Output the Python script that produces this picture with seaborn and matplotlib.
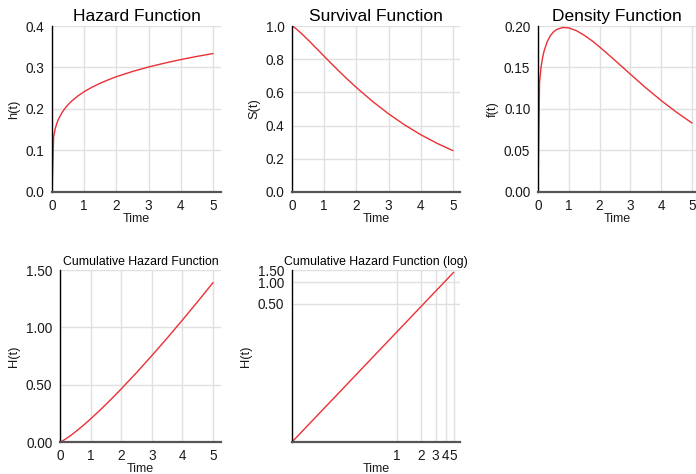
import matplotlib
matplotlib.use("Agg")
import matplotlib.pyplot as plt
import matplotlib.ticker as mticker
import seaborn as sns
import pandas as pd

# Values
time = [0.0, 0.05, 0.1, 0.15, 0.2, 0.3, 0.4, 0.5, 0.6, 0.8, 1.0, 1.25, 1.5,
        1.75, 2.0, 2.5, 3.0, 3.5, 4.0, 4.5, 5.0]
hazard = [0.0, 0.1328, 0.1526, 0.1655, 0.1753, 0.1901, 0.2013, 0.2105, 0.2183,
          0.2312, 0.2418, 0.2528, 0.2622, 0.2704, 0.2778, 0.2904, 0.3012,
          0.3106, 0.3191, 0.3267, 0.3336]
survival = [1.0, 0.9945, 0.9874, 0.9795, 0.9712, 0.9536, 0.9351, 0.9160,
            0.8966, 0.8571, 0.8175, 0.7685, 0.7205, 0.6741, 0.6295, 0.5461,
            0.4710, 0.4041, 0.3452, 0.2938, 0.2491]
density = [0.0, 0.1321, 0.1506, 0.1621, 0.1702, 0.1812, 0.1883, 0.1928,
           0.1957, 0.1982, 0.1977, 0.1943, 0.1889, 0.1823, 0.1748, 0.1586,
           0.1419, 0.1255, 0.1102, 0.0960, 0.0831]
cumhaz = [0.0, 0.00554, 0.01271, 0.02068, 0.02921, 0.04752, 0.06709, 0.08771,
          0.1092, 0.1542, 0.2015, 0.2634, 0.3278, 0.3944, 0.4629, 0.6050,
          0.7530, 0.9060, 1.0635, 1.2250, 1.3900]

titles = ["Hazard Function", "Survival Function", "Density Function",
          "Cumulative Hazard Function", "Cumulative Hazard Function (log)"]
ylabels = ["h(t)", "S(t)", "f(t)", "H(t)", "H(t)"]

df = pd.DataFrame({"time": time, "hazard": hazard, "survival": survival,
                   "density": density, "cumhaz": cumhaz})
df_log = df[df["time"] > 0]

sns.set_style("white")
plt.rcParams["font.family"] = ["Liberation Sans", "DejaVu Sans"]

W, H = 696, 474
fig = plt.figure(figsize=(W / 100, H / 100), dpi=100)

def ax_px(l, t, r, b):
    return fig.add_axes([l / W, 1 - b / H, (r - l) / W, (b - t) / H])

LINE = "#ec2f35"
GRID = "#e0e0e0"

def style(ax, title, ylabel, tsize):
    ax.set_facecolor("white")
    ax.grid(True, color=GRID, linewidth=1.0)
    ax.set_axisbelow(True)
    for s in ["top", "right"]:
        ax.spines[s].set_visible(False)
    ax.spines["left"].set_color("black")
    ax.spines["left"].set_linewidth(1.0)
    ax.spines["bottom"].set_color("#555555")
    ax.spines["bottom"].set_linewidth(1.6)
    ax.tick_params(axis="both", which="both", direction="out", length=4,
                   width=1, color="#333333", labelsize=9.8, pad=1.5,
                   labelcolor="#1a1a1a")
    ax.tick_params(axis="x", pad=1)
    ax.tick_params(axis="x", which="minor", length=0)
    ax.tick_params(axis="y", which="minor", length=0)
    ax.set_title(title, fontsize=tsize, pad=3.5, color="black")
    ax.set_xlabel("Time", fontsize=9.0, labelpad=0, color="#1a1a1a")
    ax.set_ylabel(ylabel, fontsize=9.3, labelpad=4, color="#1a1a1a")

# Hazard
ax1 = ax_px(52, 26, 221, 192)
sns.lineplot(data=df, x="time", y="hazard", ax=ax1, color=LINE, linewidth=1.0)
ax1.set_xlim(0, 5.25)
ax1.set_ylim(0, 0.4)
ax1.set_xticks([0, 1, 2, 3, 4, 5])
ax1.set_yticks([0.0, 0.1, 0.2, 0.3, 0.4])
ax1.yaxis.set_major_formatter(mticker.FormatStrFormatter("%.1f"))
style(ax1, titles[0], ylabels[0], 12.5)

# Survival
ax2 = ax_px(292, 26, 460, 192)
sns.lineplot(data=df, x="time", y="survival", ax=ax2, color=LINE, linewidth=1.0)
ax2.set_xlim(0, 5.22)
ax2.set_ylim(0, 1.0)
ax2.set_xticks([0, 1, 2, 3, 4, 5])
ax2.set_yticks([0.0, 0.2, 0.4, 0.6, 0.8, 1.0])
ax2.yaxis.set_major_formatter(mticker.FormatStrFormatter("%.1f"))
style(ax2, titles[1], ylabels[1], 12.5)

# Density
ax3 = ax_px(538, 26, 696, 192)
sns.lineplot(data=df, x="time", y="density", ax=ax3, color=LINE, linewidth=1.0)
ax3.set_xlim(0, 5.13)
ax3.set_ylim(0, 0.2)
ax3.set_xticks([0, 1, 2, 3, 4, 5])
ax3.set_yticks([0.0, 0.05, 0.10, 0.15, 0.20])
ax3.yaxis.set_major_formatter(mticker.FormatStrFormatter("%.2f"))
style(ax3, titles[2], ylabels[2], 12.5)

# Cumulative hazard
ax4 = ax_px(60, 270, 221, 442)
sns.lineplot(data=df, x="time", y="cumhaz", ax=ax4, color=LINE, linewidth=1.0)
ax4.set_xlim(0, 5.26)
ax4.set_ylim(0, 1.5)
ax4.set_xticks([0, 1, 2, 3, 4, 5])
ax4.set_yticks([0.0, 0.5, 1.0, 1.5])
ax4.yaxis.set_major_formatter(mticker.FormatStrFormatter("%.2f"))
style(ax4, titles[3], ylabels[3], 8.8)

# Cumulative hazard (log)
ax5 = ax_px(292, 270, 460, 442)
sns.lineplot(data=df_log, x="time", y="cumhaz", ax=ax5, color=LINE, linewidth=1.0)
ax5.set_xscale("log")
ax5.set_yscale("log")
ax5.set_xlim(0.05, 6.0)
ax5.set_ylim(cumhaz[1], 1.5)
ax5.xaxis.set_major_locator(mticker.FixedLocator([1, 2, 3, 4, 5]))
ax5.xaxis.set_minor_locator(mticker.NullLocator())
ax5.xaxis.set_major_formatter(mticker.FormatStrFormatter("%d"))
ax5.yaxis.set_major_locator(mticker.FixedLocator([0.5, 1.0, 1.5]))
ax5.yaxis.set_minor_locator(mticker.NullLocator())
ax5.yaxis.set_major_formatter(mticker.FormatStrFormatter("%.2f"))
style(ax5, titles[4], ylabels[4], 8.8)

fig.savefig("out.png", dpi=100, facecolor="white")
